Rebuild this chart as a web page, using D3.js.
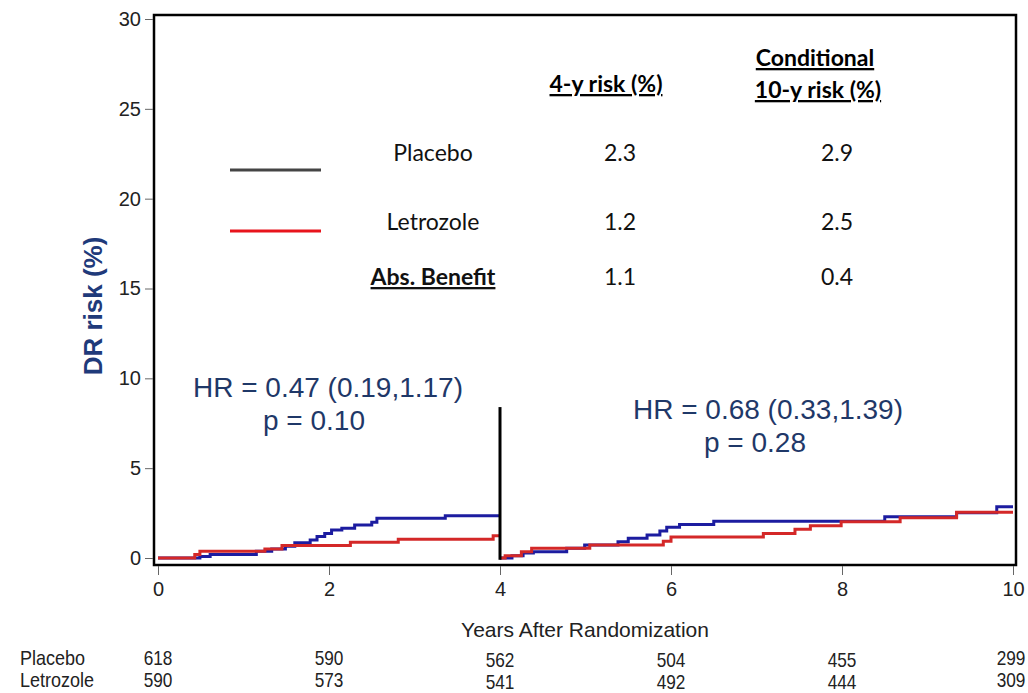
<!doctype html>
<html>
  <head>
    <meta charset="utf-8">
    <style>
      body { margin: 0; background: #fff; }
      svg { display: block; }
    </style>
  </head>
  <body>
    <svg width="1028" height="693"></svg>
    <script src="https://d3js.org/d3.v7.min.js"></script>
    <script>

      // cumulative DR risk (%), [years, risk]
      var placeboFirst = [[0,0],[0.49,0.08],[0.61,0.2],[1.15,0.37],[1.33,0.5],[1.49,0.65],[1.6,0.85],[1.78,1.0],[1.86,1.19],[1.95,1.37],[2.03,1.56],[2.15,1.65],[2.3,1.84],[2.5,1.99],[2.56,2.21],[3.36,2.35],[4,2.35]];
      var letrozoleFirst = [[0,0],[0.43,0.19],[0.49,0.37],[1.25,0.5],[1.45,0.7],[2.25,0.87],[2.81,1.04],[3.92,1.24],[4,1.24]];
      var placeboSecond = [[4,0],[4.14,0.13],[4.27,0.28],[4.39,0.35],[4.78,0.54],[4.99,0.72],[5.38,0.91],[5.5,1.1],[5.72,1.28],[5.87,1.5],[5.95,1.71],[6.1,1.87],[6.5,2.04],[8.5,2.3],[9.34,2.52],[9.81,2.85],[10,2.85]];
      var letrozoleSecond = [[4,0],[4.06,0.13],[4.25,0.35],[4.37,0.54],[5.05,0.72],[5.91,0.93],[6.0,1.17],[7.08,1.37],[7.45,1.6],[7.63,1.8],[7.99,2.02],[8.68,2.24],[9.34,2.55],[10,2.55]];

      var xTicks = [0, 2, 4, 6, 8, 10];
      var yTicks = [0, 5, 10, 15, 20, 25, 30];

      // numbers at risk
      var atRiskGroups = ["Placebo", "Letrozole"];
      var atRiskPlacebo = [618, 590, 562, 504, 455, 299];
      var atRiskLetrozole = [590, 573, 541, 492, 444, 309];

      // legend table
      var tableRows = ["Placebo", "Letrozole", "Abs. Benefit"];
      var risk4y = [2.3, 1.2, 1.1];
      var risk10y = [2.9, 2.5, 0.4];

      var hrFirst = ["HR = 0.47 (0.19,1.17)", "p = 0.10"];
      var hrSecond = ["HR = 0.68 (0.33,1.39)", "p = 0.28"];

      var svg = d3.select("svg");

      var x = d3.scaleLinear().domain([0, 10]).range([158, 1013]);
      var y = d3.scaleLinear().domain([0, 30]).range([558, 19]);

      var line = d3.line()
          .curve(d3.curveStepAfter)
          .x(function(d) { return x(d[0]); })
          .y(function(d) { return y(d[1]); });

      // frame
      svg.append("rect")
          .attr("x", 154)
          .attr("y", 15)
          .attr("width", 862)
          .attr("height", 550)
          .attr("fill", "none")
          .attr("stroke", "#000")
          .attr("stroke-width", 2.5);

      var tickFont = "20px 'Liberation Sans', Arial, sans-serif";

      // y axis
      var yAxis = svg.append("g")
          .attr("transform", "translate(153,0)")
          .call(d3.axisLeft(y).tickValues(yTicks).tickSize(8).tickPadding(4));
      yAxis.select(".domain").remove();
      yAxis.selectAll("line").attr("stroke", "#666");
      yAxis.selectAll("text")
          .attr("fill", "#222")
          .style("font", tickFont);

      // x axis
      var xAxis = svg.append("g")
          .attr("transform", "translate(0,566)")
          .call(d3.axisBottom(x).tickValues(xTicks).tickSize(9).tickPadding(7));
      xAxis.select(".domain").remove();
      xAxis.selectAll("line").attr("stroke", "#666");
      xAxis.selectAll("text")
          .attr("fill", "#222")
          .style("font", tickFont);

      svg.append("text")
          .attr("x", 585)
          .attr("y", 637)
          .attr("text-anchor", "middle")
          .attr("fill", "#222")
          .style("font", "21px 'Liberation Sans', Arial, sans-serif")
          .text("Years After Randomization");

      svg.append("text")
          .attr("transform", "translate(102,306) rotate(-90)")
          .attr("text-anchor", "middle")
          .attr("fill", "#1f3a7a")
          .style("font", "bold 26px 'Liberation Sans', Arial, sans-serif")
          .text("DR risk (%)");

      // curves
      [[placeboFirst, "#1c1ca0"], [placeboSecond, "#1c1ca0"], [letrozoleFirst, "#d42828"], [letrozoleSecond, "#d42828"]].forEach(function(s) {
        svg.append("path")
            .datum(s[0])
            .attr("fill", "none")
            .attr("stroke", s[1])
            .attr("stroke-width", 3)
            .attr("d", line);
      });

      // landmark line at 4 years
      svg.append("line")
          .attr("x1", x(4))
          .attr("x2", x(4))
          .attr("y1", y(8.4))
          .attr("y2", y(-0.1))
          .attr("stroke", "#000")
          .attr("stroke-width", 3);

      // hazard ratios
      var hrFont = "28px 'Liberation Sans', Arial, sans-serif";
      svg.selectAll(".hr1")
          .data(hrFirst)
        .enter().append("text")
          .attr("x", function(d, i) { return i === 0 ? 328 : 314; })
          .attr("y", function(d, i) { return 397 + i * 33; })
          .attr("text-anchor", "middle")
          .attr("fill", "#1f3868")
          .style("font", hrFont)
          .text(function(d) { return d; });
      svg.selectAll(".hr2")
          .data(hrSecond)
        .enter().append("text")
          .attr("x", function(d, i) { return i === 0 ? 768 : 755; })
          .attr("y", function(d, i) { return 419 + i * 33; })
          .attr("text-anchor", "middle")
          .attr("fill", "#1f3868")
          .style("font", hrFont)
          .text(function(d) { return d; });

      // legend table
      var tFont = "23px Lato, 'Open Sans', sans-serif";
      var tBold = "bold 23px Lato, 'Open Sans', sans-serif";
      svg.append("text")
          .attr("x", 606).attr("y", 92)
          .attr("text-anchor", "middle")
          .style("font", tBold)
          .style("text-decoration", "underline")
          .text("4-y risk (%)");
      svg.append("text")
          .attr("x", 815).attr("y", 66)
          .attr("text-anchor", "middle")
          .style("font", tBold)
          .style("text-decoration", "underline")
          .text("Conditional");
      svg.append("text")
          .attr("x", 818).attr("y", 98)
          .attr("text-anchor", "middle")
          .style("font", tBold)
          .style("text-decoration", "underline")
          .text("10-y risk (%)");

      var rowY = [161, 230, 285];
      tableRows.forEach(function(name, i) {
        svg.append("text")
            .attr("x", 433).attr("y", rowY[i])
            .attr("text-anchor", "middle")
            .attr("fill", "#111")
            .style("font", i === 2 ? tBold : tFont)
            .style("text-decoration", i === 2 ? "underline" : null)
            .text(name);
        svg.append("text")
            .attr("x", 620).attr("y", rowY[i])
            .attr("text-anchor", "middle")
            .attr("fill", "#111")
            .style("font", tFont)
            .text(risk4y[i].toFixed(1));
        svg.append("text")
            .attr("x", 837).attr("y", rowY[i])
            .attr("text-anchor", "middle")
            .attr("fill", "#111")
            .style("font", tFont)
            .text(risk10y[i].toFixed(1));
      });

      svg.append("line")
          .attr("x1", 230).attr("x2", 321)
          .attr("y1", 170).attr("y2", 170)
          .attr("stroke", "#444").attr("stroke-width", 3);
      svg.append("line")
          .attr("x1", 230).attr("x2", 321)
          .attr("y1", 231).attr("y2", 231)
          .attr("stroke", "#e8141c").attr("stroke-width", 3);

      // numbers at risk (narrow type, squeezed horizontally)
      var nFont = "21px 'Liberation Sans', Arial, sans-serif";
      [atRiskPlacebo, atRiskLetrozole].forEach(function(row, r) {
        var rowBase = 665 + r * 22;
        svg.append("text")
            .attr("transform", "translate(20," + rowBase + ") scale(0.9,1)")
            .attr("fill", "#222")
            .style("font", "20px 'Liberation Sans', Arial, sans-serif")
            .text(atRiskGroups[r]);
        svg.selectAll(".n" + r)
            .data(row)
          .enter().append("text")
            .attr("transform", function(d, i) {
              var cx = Math.min(x(xTicks[i]), 1011);
              var dy = (i > 1 && i < 5) ? 2 : 0;
              return "translate(" + cx + "," + (rowBase + dy) + ") scale(0.82,1)";
            })
            .attr("text-anchor", "middle")
            .attr("fill", "#222")
            .style("font", nFont)
            .text(function(d) { return d; });
      });

    </script>
  </body>
</html>
